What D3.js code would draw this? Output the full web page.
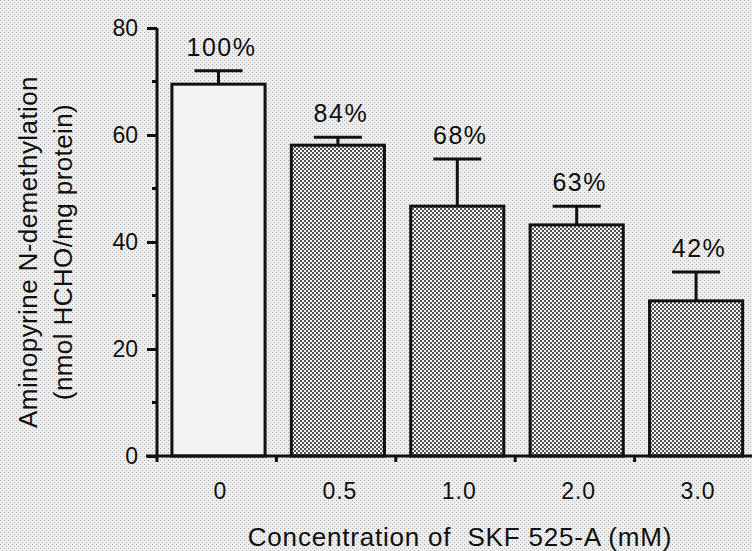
<!DOCTYPE html>
<html>
<head>
<meta charset="utf-8">
<script src="https://cdn.jsdelivr.net/npm/d3@7"></script>
<style>
  html, body { margin: 0; padding: 0; background: #e4e4e4; }
  svg { display: block; }
  text { font-family: "Liberation Sans", Arial, Helvetica, sans-serif; fill: #111; }
</style>
</head>
<body>
<script>
// ---- data ----
const categories = ["0", "0.5", "1.0", "2.0", "3.0"];
const means = [69.5, 58.1, 46.7, 43.2, 29.0];
const errors = [2.5, 1.5, 8.8, 3.5, 5.4];
const percentLabels = ["100%", "84%", "68%", "63%", "42%"];
const yTicks = [0, 20, 40, 60, 80];
const yMinorTicks = [10, 30, 50, 70];
const yTitle = ["Aminopyrine N-demethylation", "(nmol HCHO/mg protein)"];
const xTitle = "Concentration of  SKF 525-A (mM)";

const W = 752, H = 551;
const svg = d3.select("body").append("svg").attr("width", W).attr("height", H);

// background halftone texture
const defs = svg.append("defs");
const bg = defs.append("pattern").attr("id", "bgtex").attr("width", 4).attr("height", 4)
  .attr("patternUnits", "userSpaceOnUse");
bg.append("rect").attr("width", 4).attr("height", 4).attr("fill", "#eeeeee");
bg.append("rect").attr("x", 0).attr("y", 0).attr("width", 1).attr("height", 1).attr("fill", "#a8a8a8");
bg.append("rect").attr("x", 2).attr("y", 2).attr("width", 1).attr("height", 1).attr("fill", "#bcbcbc");

const dots = defs.append("pattern").attr("id", "dots").attr("width", 4).attr("height", 4)
  .attr("patternUnits", "userSpaceOnUse");
dots.append("rect").attr("width", 4).attr("height", 4).attr("fill", "#f4f4f4");
dots.append("circle").attr("cx", 1).attr("cy", 1).attr("r", 1.0).attr("fill", "#1a1a1a");
dots.append("circle").attr("cx", 3).attr("cy", 3).attr("r", 1.0).attr("fill", "#1a1a1a");

svg.append("rect").attr("width", W).attr("height", H).attr("fill", "url(#bgtex)");

// scales
const x = d3.scaleBand().domain(categories).range([157, 754]).padding(0);
const bw = x.bandwidth();
const barW = bw * 0.78;
const barOff = bw * 0.125;
const y = d3.scaleLinear().domain([0, 80]).range([456, 28]);

const data = categories.map((c, i) => ({ c, m: means[i], e: errors[i], p: percentLabels[i], i }));

// bars
svg.append("g").selectAll("rect").data(data).join("rect")
  .attr("x", d => x(d.c) + barOff)
  .attr("y", d => y(d.m))
  .attr("width", barW)
  .attr("height", d => y(0) - y(d.m))
  .attr("fill", d => d.i === 0 ? "#f3f3f3" : "url(#dots)")
  .attr("stroke", "#111")
  .attr("stroke-width", 3);

// error bars (upper only)
const eg = svg.append("g").attr("stroke", "#111").attr("stroke-width", 3);
data.forEach(d => {
  const cx = x(d.c) + barOff + barW / 2;
  eg.append("line").attr("x1", cx).attr("x2", cx).attr("y1", y(d.m)).attr("y2", y(d.m + d.e));
  eg.append("line").attr("x1", cx - 24).attr("x2", cx + 24).attr("y1", y(d.m + d.e)).attr("y2", y(d.m + d.e));
});

// percent labels
svg.append("g").selectAll("text").data(data).join("text")
  .attr("x", d => x(d.c) + barOff + barW / 2 + 3)
  .attr("y", d => y(d.m + d.e) - 15)
  .attr("text-anchor", "middle")
  .attr("font-size", 25)
  .attr("letter-spacing", 1.5)
  .text(d => d.p);

// y axis
const yAxis = d3.axisLeft(y).tickValues(yTicks).tickSize(10).tickPadding(9).tickFormat(d3.format("d"));
const gy = svg.append("g").attr("transform", "translate(157,0)").call(yAxis);
gy.select(".domain").attr("stroke", "#111").attr("stroke-width", 3).attr("d", `M0,${y(80)}V${y(0)}`);
gy.selectAll(".tick line").attr("stroke", "#111").attr("stroke-width", 3);
gy.selectAll(".tick text").attr("font-size", 23).attr("font-family", "Liberation Sans, Arial, sans-serif").attr("fill", "#111");
gy.selectAll(".minor").data(yMinorTicks).join("line").attr("class", "minor")
  .attr("x1", -5).attr("x2", 0).attr("y1", d => y(d)).attr("y2", d => y(d))
  .attr("stroke", "#111").attr("stroke-width", 3);

// x axis
const gx = svg.append("g");
gx.append("line").attr("x1", 146).attr("x2", W).attr("y1", y(0)).attr("y2", y(0))
  .attr("stroke", "#111").attr("stroke-width", 3);
gx.selectAll(".bt").data(categories).join("line").attr("class", "bt")
  .attr("x1", d => x(d)).attr("x2", d => x(d))
  .attr("y1", y(0)).attr("y2", y(0) + 6)
  .attr("stroke", "#111").attr("stroke-width", 3);
gx.selectAll(".xl").data(data).join("text").attr("class", "xl")
  .attr("x", d => x(d.c) + barOff + barW / 2 + 2)
  .attr("y", 499)
  .attr("text-anchor", "middle")
  .attr("font-size", 23)
  .attr("letter-spacing", 1)
  .text(d => d.c);

// titles
svg.append("text").attr("x", 460).attr("y", 546).attr("text-anchor", "middle")
  .attr("font-size", 26).attr("letter-spacing", 0.8)
  .style("white-space", "pre").attr("xml:space", "preserve").text(xTitle);

const yt = svg.append("text").attr("transform", "translate(0,252) rotate(-90)")
  .attr("text-anchor", "middle").attr("font-size", 26).attr("letter-spacing", 0.4);
yt.append("tspan").attr("x", 0).attr("y", 37).text(yTitle[0]);
yt.append("tspan").attr("x", 0).attr("y", 72).text(yTitle[1]);
</script>
</body>
</html>
